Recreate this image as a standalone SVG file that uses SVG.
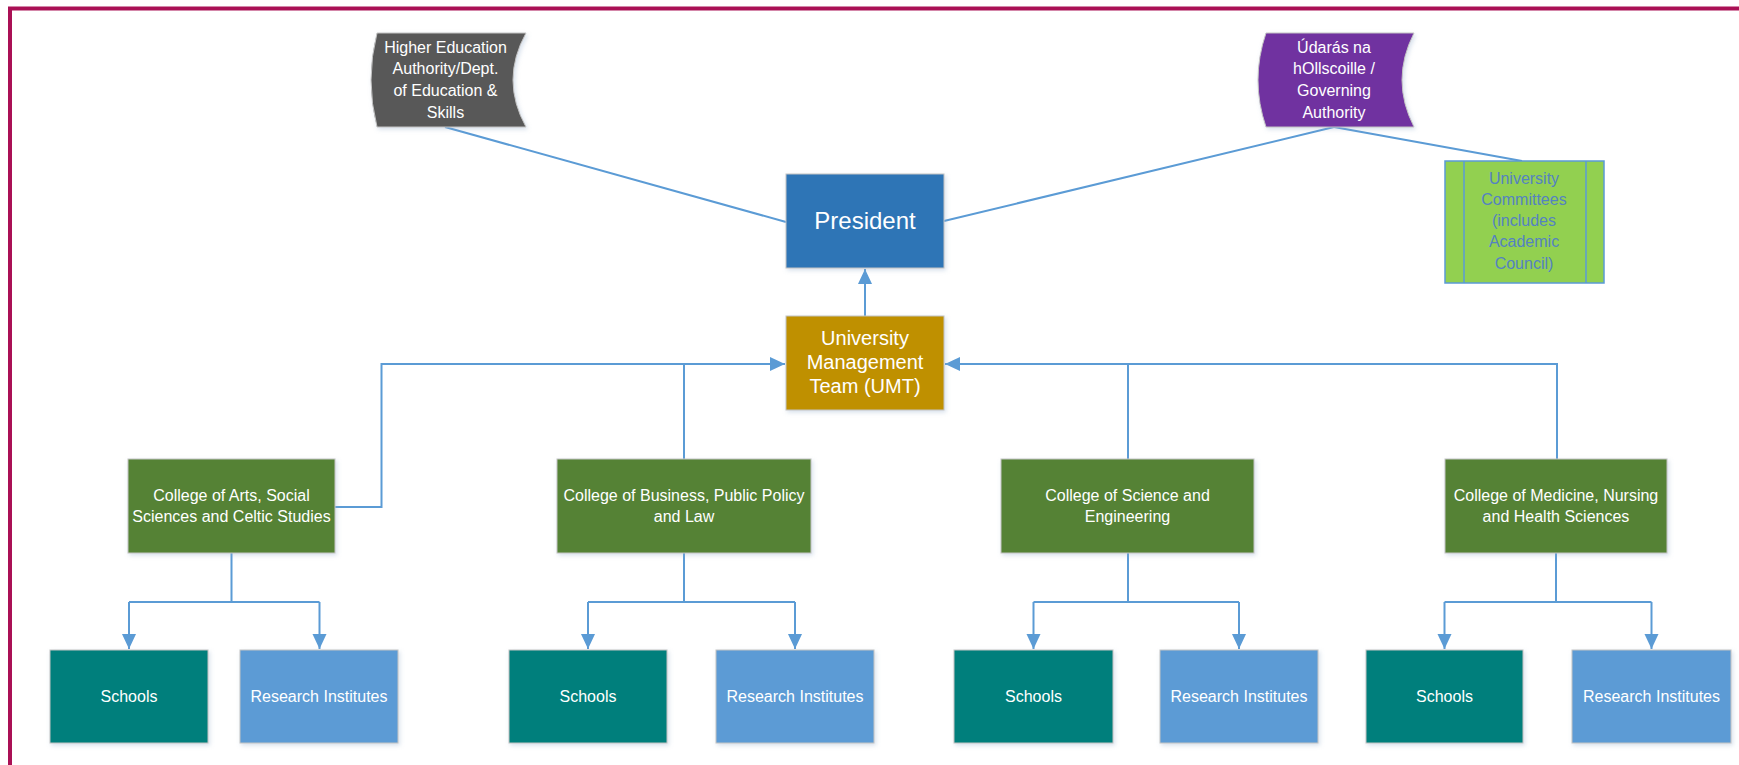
<svg xmlns="http://www.w3.org/2000/svg" width="1739" height="765" viewBox="0 0 1739 765">
<style>
.box{stroke:#C4C4C4;stroke-width:1;filter:url(#sh)}
.t{font-family:"Liberation Sans",Arial,sans-serif;fill:#FFFFFF;text-anchor:middle}
.s16{font-size:16px}
.conn{fill:none;stroke:#5B9BD5;stroke-width:2}
</style>
<defs>
<filter id="sh" x="-10%" y="-10%" width="125%" height="130%">
<feDropShadow dx="1.5" dy="2" stdDeviation="2" flood-color="#8FA9C9" flood-opacity="0.35"/>
</filter>
<marker id="arr" markerUnits="userSpaceOnUse" markerWidth="16" markerHeight="16" viewBox="0 0 16 16" refX="15" refY="8" orient="auto">
<path d="M0,1 L15,8 L0,15 Z" fill="#5B9BD5"/>
</marker>
</defs>
<rect width="1739" height="765" fill="#FFFFFF"/>
<g id="frame" fill="none" stroke="#AA1055" stroke-width="4">
<path d="M10,765 V8.5 H1739"/>
</g>
<g id="connectors" class="conn">
<path d="M445,127 L786,222"/>
<path d="M1334,127 L944,221"/>
<path d="M1334,127 L1522,161"/>
<path d="M865,316 V269" marker-end="url(#arr)"/>
<path d="M335,507 H381.5 V364 H785" marker-end="url(#arr)"/>
<path d="M684,459 V364"/>
<path d="M1557,459 V364 H945" marker-end="url(#arr)"/>
<path d="M1128,459 V364"/>
<path d="M231.5,553 V602 M129,602 H319.5"/>
<path d="M129,602 V649" marker-end="url(#arr)"/>
<path d="M319.5,602 V649" marker-end="url(#arr)"/>
<path d="M684,553 V602 M588,602 H795"/>
<path d="M588,602 V649" marker-end="url(#arr)"/>
<path d="M795,602 V649" marker-end="url(#arr)"/>
<path d="M1128,553 V602 M1033.5,602 H1239"/>
<path d="M1033.5,602 V649" marker-end="url(#arr)"/>
<path d="M1239,602 V649" marker-end="url(#arr)"/>
<path d="M1556,553 V602 M1444.5,602 H1651.5"/>
<path d="M1444.5,602 V649" marker-end="url(#arr)"/>
<path d="M1651.5,602 V649" marker-end="url(#arr)"/>
</g>
<g id="hea">
<path class="box" d="M377,33 L526,33 Q500,80 526,127 L377,127 Q365,80 377,33 Z" fill="#595959"/>
<text class="t s16" x="445.5" y="52.5">Higher Education</text>
<text class="t s16" x="445.5" y="74.2">Authority/Dept.</text>
<text class="t s16" x="445.5" y="95.9">of Education &amp;</text>
<text class="t s16" x="445.5" y="117.6">Skills</text>
</g>
<g id="udaras">
<path class="box" d="M1266,33 L1414,33 Q1390,80 1414,127 L1266,127 Q1250,80 1266,33 Z" fill="#7030A0"/>
<text class="t s16" x="1334" y="52.5">Údarás na</text>
<text class="t s16" x="1334" y="74.2">hOllscoille /</text>
<text class="t s16" x="1334" y="95.9">Governing</text>
<text class="t s16" x="1334" y="117.6">Authority</text>
</g>
<g id="committees">
<rect x="1445" y="161" width="159" height="122" fill="#92D050" stroke="#5B9BD5" stroke-width="1.5"/>
<path d="M1464,161 V283 M1586,161 V283" stroke="#5B9BD5" stroke-width="1.5" fill="none"/>
<text class="t s16" style="fill:#5482C2" x="1524" y="183.5">University</text>
<text class="t s16" style="fill:#5482C2" x="1524" y="204.8">Committees</text>
<text class="t s16" style="fill:#5482C2" x="1524" y="226.1">(includes</text>
<text class="t s16" style="fill:#5482C2" x="1524" y="247.4">Academic</text>
<text class="t s16" style="fill:#5482C2" x="1524" y="268.7">Council)</text>
</g>
<g id="president">
<rect class="box" x="786" y="174" width="158" height="94" fill="#2E75B6"/>
<text class="t" style="font-size:24px" x="865" y="228.5">President</text>
</g>
<g id="umt">
<rect class="box" x="786" y="316" width="158" height="94" fill="#BF9000"/>
<text class="t" style="font-size:20px" x="865" y="345">University</text>
<text class="t" style="font-size:20px" x="865" y="369">Management</text>
<text class="t" style="font-size:20px" x="865" y="393">Team (UMT)</text>
</g>
<g id="college-arts">
<rect class="box" x="128" y="459" width="207" height="94" fill="#548235"/>
<text class="t s16" x="231.5" y="500.5">College of Arts, Social</text>
<text class="t s16" x="231.5" y="522">Sciences and Celtic Studies</text>
</g>
<g id="college-business">
<rect class="box" x="557" y="459" width="254" height="94" fill="#548235"/>
<text class="t s16" x="684" y="500.5">College of Business, Public Policy</text>
<text class="t s16" x="684" y="522">and Law</text>
</g>
<g id="college-science">
<rect class="box" x="1001" y="459" width="253" height="94" fill="#548235"/>
<text class="t s16" x="1127.5" y="500.5">College of Science and</text>
<text class="t s16" x="1127.5" y="522">Engineering</text>
</g>
<g id="college-medicine">
<rect class="box" x="1445" y="459" width="222" height="94" fill="#548235"/>
<text class="t s16" x="1556" y="500.5">College of Medicine, Nursing</text>
<text class="t s16" x="1556" y="522">and Health Sciences</text>
</g>
<g id="schools-1">
<rect class="box" x="50" y="650" width="158" height="93" fill="#007F7B"/>
<text class="t s16" x="129" y="702">Schools</text>
</g>
<g id="research-1">
<rect class="box" x="240" y="650" width="158" height="93" fill="#5B9BD5"/>
<text class="t s16" x="319" y="702">Research Institutes</text>
</g>
<g id="schools-2">
<rect class="box" x="509" y="650" width="158" height="93" fill="#007F7B"/>
<text class="t s16" x="588" y="702">Schools</text>
</g>
<g id="research-2">
<rect class="box" x="716" y="650" width="158" height="93" fill="#5B9BD5"/>
<text class="t s16" x="795" y="702">Research Institutes</text>
</g>
<g id="schools-3">
<rect class="box" x="954" y="650" width="159" height="93" fill="#007F7B"/>
<text class="t s16" x="1033.5" y="702">Schools</text>
</g>
<g id="research-3">
<rect class="box" x="1160" y="650" width="158" height="93" fill="#5B9BD5"/>
<text class="t s16" x="1239" y="702">Research Institutes</text>
</g>
<g id="schools-4">
<rect class="box" x="1366" y="650" width="157" height="93" fill="#007F7B"/>
<text class="t s16" x="1444.5" y="702">Schools</text>
</g>
<g id="research-4">
<rect class="box" x="1572" y="650" width="159" height="93" fill="#5B9BD5"/>
<text class="t s16" x="1651.5" y="702">Research Institutes</text>
</g>
</svg>
